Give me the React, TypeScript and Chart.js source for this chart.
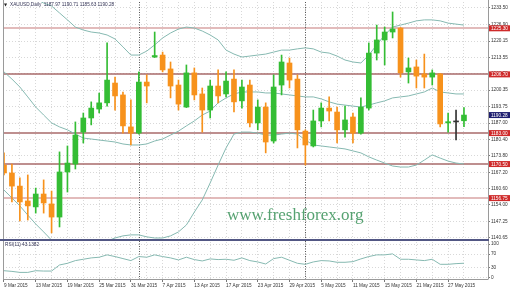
import React, { useEffect, useRef } from "react";
import { Chart, registerables } from "chart.js";

Chart.register(...registerables);

// ---------------- data ----------------
const dates = [
  "9 Mar 2015", "10 Mar 2015", "11 Mar 2015", "12 Mar 2015", "13 Mar 2015",
  "16 Mar 2015", "17 Mar 2015", "18 Mar 2015", "19 Mar 2015", "20 Mar 2015",
  "23 Mar 2015", "24 Mar 2015", "25 Mar 2015", "26 Mar 2015", "27 Mar 2015",
  "30 Mar 2015", "31 Mar 2015", "1 Apr 2015", "2 Apr 2015", "6 Apr 2015",
  "7 Apr 2015", "8 Apr 2015", "9 Apr 2015", "10 Apr 2015", "13 Apr 2015",
  "14 Apr 2015", "15 Apr 2015", "16 Apr 2015", "17 Apr 2015", "20 Apr 2015",
  "21 Apr 2015", "22 Apr 2015", "23 Apr 2015", "24 Apr 2015", "27 Apr 2015",
  "28 Apr 2015", "29 Apr 2015", "30 Apr 2015", "1 May 2015", "4 May 2015",
  "5 May 2015", "6 May 2015", "7 May 2015", "8 May 2015", "11 May 2015",
  "12 May 2015", "13 May 2015", "14 May 2015", "15 May 2015", "18 May 2015",
  "19 May 2015", "20 May 2015", "21 May 2015", "22 May 2015", "25 May 2015",
  "26 May 2015", "27 May 2015", "28 May 2015", "29 May 2015",
];

const open = [
  1170.1, 1166.9, 1161.6, 1155.6, 1153.2, 1158.4, 1154.4, 1149.1, 1167.3, 1170.5,
  1183.4, 1189.1, 1192.7, 1195.2, 1203.2, 1198.4, 1185.5, 1183.0, 1203.6, 1213.7,
  1214.5, 1208.9, 1202.4, 1193.5, 1207.3, 1198.8, 1192.3, 1202.0, 1198.8, 1204.8,
  1196.0, 1202.4, 1187.1, 1193.5, 1179.8, 1202.4, 1211.3, 1204.8, 1183.8, 1177.8,
  1187.9, 1193.1, 1191.5, 1184.3, 1189.5, 1183.0, 1193.1, 1215.3, 1220.6, 1223.8,
  1225.4, 1207.7, 1209.7, 1206.9, 1205.6, 1206.9, 1187.1, 1187.5, 1187.97,
];
const high = [
  1175.0, 1170.5, 1164.9, 1166.1, 1160.8, 1164.1, 1159.6, 1175.4, 1177.8, 1187.5,
  1191.1, 1195.6, 1199.2, 1219.4, 1205.6, 1199.6, 1196.4, 1207.7, 1206.5, 1223.8,
  1215.7, 1211.7, 1204.4, 1210.5, 1209.3, 1201.2, 1204.4, 1208.5, 1207.7, 1208.5,
  1204.4, 1204.4, 1196.4, 1195.2, 1206.5, 1214.5, 1213.3, 1206.5, 1184.3, 1192.3,
  1195.2, 1197.6, 1193.5, 1193.9, 1191.1, 1197.2, 1219.4, 1226.6, 1225.8, 1231.9,
  1225.6, 1213.3, 1212.5, 1214.9, 1208.5, 1207.0, 1191.1, 1192.3, 1193.3,
];
const low = [
  1166.1, 1155.2, 1147.5, 1147.9, 1150.7, 1150.7, 1142.7, 1145.1, 1159.2, 1168.5,
  1179.0, 1186.3, 1191.1, 1193.9, 1192.3, 1183.0, 1178.2, 1182.6, 1195.2, 1213.5,
  1207.7, 1197.2, 1192.3, 1193.3, 1196.4, 1183.4, 1189.1, 1195.2, 1197.6, 1191.5,
  1193.1, 1185.5, 1184.3, 1175.0, 1179.0, 1198.4, 1201.2, 1177.0, 1170.1, 1177.4,
  1185.5, 1187.9, 1179.0, 1181.4, 1179.0, 1182.6, 1192.3, 1212.5, 1210.5, 1221.4,
  1205.6, 1203.2, 1201.2, 1201.2, 1202.4, 1185.5, 1183.4, 1180.2, 1185.6,
];
const close = [
  1166.9, 1161.6, 1155.2, 1153.6, 1158.4, 1154.8, 1149.1, 1167.3, 1170.9, 1182.2,
  1189.1, 1193.1, 1195.2, 1204.4, 1198.0, 1185.9, 1183.0, 1203.6, 1202.0, 1214.3,
  1208.5, 1202.0, 1194.7, 1207.3, 1198.4, 1192.3, 1202.0, 1198.0, 1204.0, 1195.6,
  1201.6, 1187.1, 1193.5, 1179.4, 1201.6, 1211.7, 1204.4, 1184.3, 1178.2, 1187.9,
  1193.1, 1191.9, 1184.3, 1188.3, 1183.0, 1193.5, 1215.3, 1220.6, 1223.8, 1225.0,
  1207.3, 1209.3, 1206.0, 1205.6, 1207.3, 1186.7, 1187.6, 1187.5, 1190.28,
];

const bbUpper = [
  1248.8, 1245.6, 1242.4, 1239.6, 1237.1, 1235.5, 1234.3, 1231.5, 1228.7, 1225.8,
  1224.6, 1223.8, 1223.4, 1222.6, 1221.0, 1217.8, 1214.5, 1214.5, 1216.1, 1218.6,
  1221.4, 1223.4, 1225.0, 1225.8, 1225.4, 1224.2, 1222.6, 1220.6, 1216.5, 1214.9,
  1213.7, 1214.1, 1214.5, 1214.9, 1215.7, 1216.5, 1216.5, 1217.0, 1217.4, 1217.0,
  1215.7, 1215.3, 1214.1, 1212.5, 1211.7, 1211.3, 1214.5, 1218.6, 1222.6, 1225.8,
  1226.6, 1227.4, 1228.3, 1228.7, 1228.7, 1228.3, 1227.4, 1227.0, 1226.6,
];
const bbMiddle = [
  1207.7, 1204.8, 1201.6, 1197.6, 1193.5, 1190.3, 1187.1, 1185.5, 1184.3, 1182.6,
  1181.0, 1180.6, 1180.2, 1179.8, 1179.4, 1178.6, 1178.2, 1178.2, 1178.6, 1179.8,
  1180.6, 1182.2, 1183.8, 1185.9, 1187.9, 1190.3, 1191.9, 1195.2, 1197.2, 1198.8,
  1199.6, 1199.6, 1199.6, 1199.2, 1199.2, 1198.8, 1198.4, 1198.0, 1197.6, 1197.6,
  1196.8, 1195.6, 1194.7, 1194.3, 1193.9, 1193.5, 1194.3, 1195.2, 1196.0, 1197.2,
  1197.6, 1198.0, 1198.8, 1199.6, 1201.2, 1199.6, 1199.2, 1198.8, 1198.8,
];
const bbLower = [
  1160.0, 1156.8, 1153.6, 1149.9, 1146.3, 1143.1, 1139.8, 1137.4, 1135.8, 1135.0,
  1135.4, 1136.2, 1137.8, 1139.4, 1140.65, 1141.5, 1141.9, 1141.9, 1141.1, 1140.65,
  1140.65, 1141.5, 1143.1, 1145.9, 1151.1, 1156.0, 1162.9, 1170.1, 1177.0, 1182.6,
  1183.4, 1183.4, 1183.0, 1182.2, 1182.2, 1182.6, 1183.0, 1182.6, 1180.2, 1178.2,
  1177.8, 1177.4, 1177.0, 1176.6, 1175.8, 1175.0, 1173.4, 1172.1, 1170.9, 1169.7,
  1169.3, 1169.3, 1170.1, 1172.1, 1174.2, 1172.9, 1171.7, 1170.9, 1170.5,
];

const rsi = [
  21, 19, 16, 16, 21, 20, 20, 38, 43, 51,
  55, 59, 61, 68, 63, 57, 51, 63, 61, 68,
  63, 59, 53, 61, 54, 50, 56, 54, 55, 52,
  59, 51, 47, 41, 57, 61, 52, 43, 40, 47,
  51, 50, 46, 46, 48, 56, 63, 68, 68, 71,
  55, 55, 53, 51, 55, 40, 40, 42, 43.14,
];

const priceTicks = [
  1140.65, 1147.25, 1154.0, 1160.6, 1167.2, 1173.8, 1180.4, 1187.0,
  1193.75, 1200.35, 1206.95, 1213.55, 1220.15, 1226.9, 1233.5,
];
const rsiTicks = [0, 30, 70, 100];
const levels = [1225.3, 1206.7, 1183.0, 1170.5, 1156.75];
const lastPrice = 1190.28;
const periodStarts = [17, 38];
const titleSymbol = "XAUUSD,Daily";
const titleValues = "1187.97 1190.71 1185.63 1190.28";
const rsiTitle = "RSI(11) 43.1382";
const watermark = "www.freshforex.org";

// ---------------- style ----------------
const X_MIN = -0.126;
const X_MAX = 61.03;
const Y_MIN = 1140.24;
const Y_MAX = 1235.92;
const RSI_MIN = -3.6;
const RSI_MAX = 106.2;
const UP = "#34bd34";
const DOWN = "#f7921c";
const DOJI = "#333333";
const BAND = "#86b9b1";
const GRID = "#d8d8d8";
const FONT = "Liberation Sans";
const SMALL = 4.7;
const LEVEL_COLORS = ["#d9a5a5", "#a86a6a", "#a86a6a", "#a86a6a", "#d9a5a5"];

function candleColor(i: number) {
  if (close[i] > open[i]) return UP;
  if (close[i] < open[i]) return DOWN;
  return DOJI;
}

export default function App() {
  const mainRef = useRef<HTMLCanvasElement>(null);
  const rsiRef = useRef<HTMLCanvasElement>(null);

  useEffect(() => {
    Chart.defaults.font.family = FONT;
    const idx = dates.map((_, i) => i);
    const colors = idx.map(candleColor);
    const gridIdx = idx.filter((i) => i % 2 === 0);

    const drawSeparators = (ctx: any, x: any, top: number, bottom: number) => {
      ctx.save();
      ctx.setLineDash([1, 1.5]);
      ctx.strokeStyle = "#555";
      ctx.lineWidth = 1;
      periodStarts.forEach((i) => {
        const px = Math.round(x.getPixelForValue(i)) + 0.5;
        ctx.beginPath();
        ctx.moveTo(px, top);
        ctx.lineTo(px, bottom);
        ctx.stroke();
      });
      ctx.restore();
    };

    const mainDecor = {
      id: "mainDecor",
      beforeDatasetsDraw(chart: any) {
        const { ctx, chartArea: a, scales } = chart;
        const y = scales.y;
        ctx.save();
        ctx.font = '17px "Liberation Serif"';
        ctx.fillStyle = "#56a271";
        ctx.textAlign = "left";
        ctx.textBaseline = "alphabetic";
        ctx.fillText(watermark, 227, 220);

        levels.forEach((lv, k) => {
          const py = Math.round(y.getPixelForValue(lv));
          ctx.strokeStyle = LEVEL_COLORS[k];
          ctx.lineWidth = 1.4;
          ctx.beginPath();
          ctx.moveTo(a.left, py);
          ctx.lineTo(a.right, py);
          ctx.stroke();
        });
        ctx.restore();
        drawSeparators(ctx, scales.x, a.top, a.bottom);
      },
      afterDraw(chart: any) {
        const { ctx, chartArea: a, scales } = chart;
        const y = scales.y;
        ctx.save();
        ctx.strokeStyle = "#9a9a9a";
        ctx.lineWidth = 1;
        ctx.beginPath();
        ctx.moveTo(a.left + 0.5, 0);
        ctx.lineTo(a.left + 0.5, a.bottom);
        ctx.moveTo(a.right + 0.5, 0);
        ctx.lineTo(a.right + 0.5, a.bottom);
        ctx.stroke();

        ctx.fillStyle = "#525784";
        ctx.fillRect(0, a.bottom, a.right + 1, 2);

        // title
        ctx.fillStyle = "#222";
        ctx.textBaseline = "middle";
        ctx.textAlign = "left";
        ctx.font = '4px "DejaVu Sans"';
        ctx.fillText("\u25BC", 4, 5);
        ctx.fillStyle = "#333355";
        ctx.font = `${SMALL}px "${FONT}"`;
        ctx.fillText(titleSymbol, 10, 5);
        const w = ctx.measureText(titleSymbol + "  ").width;
        ctx.fillText(titleValues, 10 + w, 5);

        // level labels
        const box = (val: number, color: string) => {
          const py = y.getPixelForValue(val);
          ctx.fillStyle = color;
          ctx.fillRect(a.right + 1, py - 3, 21, 6);
          ctx.fillStyle = "#ffffff";
          ctx.fillText(val.toFixed(2), a.right + 3, py + 0.3);
        };
        levels.forEach((lv) => box(lv, "#cf2a2a"));
        box(lastPrice, "#1e1e70");
        ctx.restore();
      },
    };

    const rsiDecor = {
      id: "rsiDecor",
      beforeDatasetsDraw(chart: any) {
        const { ctx, chartArea: a, scales } = chart;
        drawSeparators(ctx, scales.x, 0, a.bottom);
      },
      afterDraw(chart: any) {
        const { ctx, chartArea: a } = chart;
        ctx.save();
        ctx.strokeStyle = "#9a9a9a";
        ctx.lineWidth = 1;
        ctx.beginPath();
        ctx.moveTo(a.left + 0.5, 0);
        ctx.lineTo(a.left + 0.5, a.bottom + 0.5);
        ctx.lineTo(a.right + 0.5, a.bottom + 0.5);
        ctx.moveTo(a.right + 0.5, 0);
        ctx.lineTo(a.right + 0.5, a.bottom);
        ctx.stroke();
        ctx.fillStyle = "#333355";
        ctx.font = `${SMALL}px "${FONT}"`;
        ctx.textBaseline = "middle";
        ctx.textAlign = "left";
        ctx.fillText(rsiTitle, 5, 4);
        ctx.restore();
      },
    };

    const smallFont = { family: FONT, size: SMALL, lineHeight: 1 };

    const main = new Chart(mainRef.current as HTMLCanvasElement, {
      type: "bar",
      data: {
        datasets: [
          {
            type: "bar",
            data: idx.map((i) => ({ x: i, y: [open[i], close[i]] })) as any,
            backgroundColor: colors,
            barThickness: 5,
            minBarLength: 1,
            grouped: false,
            borderWidth: 0,
            order: 0,
          } as any,
          {
            type: "bar",
            data: idx.map((i) => ({ x: i, y: [low[i], high[i]] })) as any,
            backgroundColor: colors,
            barThickness: 1,
            grouped: false,
            borderWidth: 0,
            order: 1,
          } as any,
          {
            type: "line",
            data: idx.map((i) => ({ x: i, y: bbUpper[i] })),
            borderColor: BAND,
            borderWidth: 1,
            pointRadius: 0,
            order: 2,
          } as any,
          {
            type: "line",
            data: idx.map((i) => ({ x: i, y: bbMiddle[i] })),
            borderColor: BAND,
            borderWidth: 1,
            pointRadius: 0,
            order: 2,
          } as any,
          {
            type: "line",
            data: idx.map((i) => ({ x: i, y: bbLower[i] })),
            borderColor: BAND,
            borderWidth: 1,
            pointRadius: 0,
            order: 2,
          } as any,
        ],
      },
      options: {
        animation: false,
        responsive: false,
        maintainAspectRatio: false,
        events: [],
        layout: { padding: { left: 3, top: 2, right: 0, bottom: 2 } },
        plugins: { legend: { display: false }, tooltip: { enabled: false } },
        scales: {
          x: {
            type: "linear",
            min: X_MIN,
            max: X_MAX,
            offset: false,
            afterBuildTicks: (s: any) => {
              s.ticks = gridIdx.map((v) => ({ value: v }));
            },
            ticks: { display: false },
            grid: { color: GRID, drawTicks: false, offset: false },
            border: { display: false, dash: [1, 2] },
            afterFit: (s: any) => {
              s.height = 0;
              s.paddingLeft = 0;
              s.paddingRight = 0;
            },
          },
          y: {
            position: "right",
            min: Y_MIN,
            max: Y_MAX,
            afterBuildTicks: (s: any) => {
              s.ticks = priceTicks.map((v) => ({ value: v }));
            },
            ticks: {
              font: smallFont,
              color: "#333",
              padding: 1,
              autoSkip: false,
              callback: (v: any) => Number(v).toFixed(2),
            },
            grid: { color: GRID, tickLength: 2, tickColor: "#777" },
            border: { display: false, dash: [1, 2] },
            afterFit: (s: any) => {
              s.width = 22;
              s.paddingTop = 0;
              s.paddingBottom = 0;
            },
          },
        },
      } as any,
      plugins: [mainDecor],
    });

    const rsiChart = new Chart(rsiRef.current as HTMLCanvasElement, {
      type: "line",
      data: {
        datasets: [
          {
            data: idx.map((i) => ({ x: i, y: rsi[i] })),
            borderColor: BAND,
            borderWidth: 1,
            pointRadius: 0,
          } as any,
        ],
      },
      options: {
        animation: false,
        responsive: false,
        maintainAspectRatio: false,
        events: [],
        layout: { padding: { left: 3, top: 1, right: 0, bottom: 0 } },
        plugins: { legend: { display: false }, tooltip: { enabled: false } },
        scales: {
          x: {
            type: "linear",
            min: X_MIN,
            max: X_MAX,
            offset: false,
            afterBuildTicks: (s: any) => {
              s.ticks = gridIdx.map((v) => ({ value: v }));
            },
            ticks: {
              font: smallFont,
              color: "#333",
              padding: 1,
              align: "start",
              maxRotation: 0,
              autoSkip: false,
              callback: (v: any) => (v % 4 === 0 ? dates[v] : ""),
            },
            grid: {
              color: GRID,
              tickLength: 3,
              offset: false,
              tickColor: (c: any) =>
                c.tick && c.tick.value % 4 === 0 ? "#777" : "rgba(0,0,0,0)",
            },
            border: { display: false, dash: [1, 2] },
            afterFit: (s: any) => {
              s.height = 12;
              s.paddingLeft = 0;
              s.paddingRight = 0;
            },
          },
          y: {
            position: "right",
            min: RSI_MIN,
            max: RSI_MAX,
            afterBuildTicks: (s: any) => {
              s.ticks = rsiTicks.map((v) => ({ value: v }));
            },
            ticks: {
              font: smallFont,
              color: "#333",
              padding: 1,
              autoSkip: false,
              callback: (v: any) => String(v),
            },
            grid: { color: GRID, tickLength: 2, tickColor: "#777" },
            border: { display: false, dash: [1, 2] },
            afterFit: (s: any) => {
              s.width = 22;
              s.paddingTop = 0;
              s.paddingBottom = 0;
            },
          },
        },
      } as any,
      plugins: [rsiDecor],
    });

    return () => {
      main.destroy();
      rsiChart.destroy();
    };
  }, []);

  return (
    <div
      style={{
        position: "absolute",
        left: 0,
        top: 0,
        width: 510,
        height: 291,
        background: "#ffffff",
        overflow: "hidden",
      }}
    >
      <canvas
        ref={mainRef}
        width={510}
        height={241}
        style={{ position: "absolute", left: 0, top: 0, width: 510, height: 241 }}
      />
      <canvas
        ref={rsiRef}
        width={510}
        height={50}
        style={{ position: "absolute", left: 0, top: 241, width: 510, height: 50 }}
      />
    </div>
  );
}
